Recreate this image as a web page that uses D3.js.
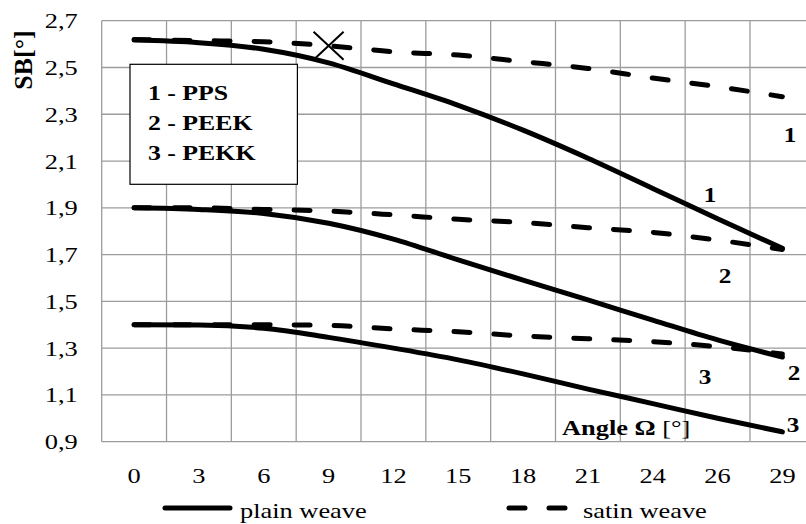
<!DOCTYPE html>
<html><head><meta charset="utf-8">
<script src="https://cdn.jsdelivr.net/npm/d3@7"></script>
<style>body{margin:0;background:#fff}svg{display:block}</style>
</head><body>
<svg id="chart" width="806" height="524"></svg>
<script>
const categories = ["0","3","6","9","12","15","18","21","24","26","29"];
const yTicks = [0.9,1.1,1.3,1.5,1.7,1.9,2.1,2.3,2.5,2.7];
const plainPPS  = [2.617, 2.606, 2.578, 2.52, 2.43, 2.338, 2.232, 2.112, 1.983, 1.853, 1.727];
const satinPPS  = [2.62, 2.615, 2.61, 2.593, 2.567, 2.553, 2.525, 2.496, 2.455, 2.418, 2.375];
const plainPEEK = [1.90, 1.893, 1.876, 1.834, 1.766, 1.677, 1.591, 1.506, 1.42, 1.335, 1.262];
const satinPEEK = [1.90, 1.90, 1.893, 1.886, 1.87, 1.851, 1.837, 1.815, 1.795, 1.762, 1.722];
const plainPEKK = [1.40, 1.399, 1.385, 1.346, 1.30, 1.25, 1.19, 1.125, 1.063, 1.0, 0.942];
const satinPEKK = [1.40, 1.40, 1.40, 1.397, 1.382, 1.37, 1.352, 1.34, 1.328, 1.306, 1.275];
const legendItems = ["1 - PPS","2 - PEEK","3 - PEKK"];
const markerIndex = 3; // "X" marker on satin PPS at 9

const svg = d3.select("#chart");
const FONT = "Liberation Serif, Tinos, Times New Roman, Times, Nimbus Roman, DejaVu Serif, serif";
const SX = 1.2;

const x = d3.scaleBand().domain(categories).range([101.7, 814.8]).padding(0);
const y = d3.scaleLinear().domain([0.9, 2.7]).range([441.7, 20.7]);
const cx = c => x(c) + x.bandwidth()/2;

function txt(g, px, py, s, opt={}) {
  const t = g.append("text")
    .attr("transform", `translate(${px},${py}) scale(${SX},1)`)
    .attr("font-family", FONT)
    .attr("font-size", opt.size || 22)
    .attr("font-weight", opt.bold ? "bold" : "normal")
    .attr("text-anchor", opt.anchor || "start")
    .attr("fill", "#000")
    .text(s);
  return t;
}

// grid
const grid = svg.append("g");
grid.selectAll("line.h").data(yTicks).join("line")
  .attr("x1", 101.7).attr("x2", 814.8)
  .attr("y1", d => y(d)).attr("y2", d => y(d))
  .attr("stroke", "#9c9c9c").attr("stroke-width", 1.3);
const vb = categories.map(c => x(c)).concat([x(categories[categories.length-1]) + x.bandwidth()]);
grid.selectAll("line.v").data(vb).join("line")
  .attr("x1", d => d).attr("x2", d => d)
  .attr("y1", y(2.7)).attr("y2", y(0.9))
  .attr("stroke", "#9c9c9c").attr("stroke-width", 1.3);

// axes (labels only)
const xAxis = svg.append("g").attr("transform", `translate(0,${y(0.9)})`)
  .call(d3.axisBottom(x).tickSize(0).tickPadding(0));
xAxis.select(".domain").remove();
xAxis.selectAll(".tick text").remove();
xAxis.selectAll(".tick").each(function(d){
  txt(d3.select(this), 0, 41, d, {anchor:"middle"});
});
const yAxis = svg.append("g").attr("transform", `translate(101.7,0)`)
  .call(d3.axisLeft(y).tickValues(yTicks).tickSize(0));
yAxis.select(".domain").remove();
yAxis.selectAll(".tick text").remove();
yAxis.selectAll(".tick").each(function(d){
  txt(d3.select(this), -24, 7, d3.format(".1f")(d).replace(".", ","), {anchor:"end"});
});

// legend box
svg.append("rect").attr("x", 130).attr("y", 64.3).attr("width", 167.4).attr("height", 120)
  .attr("fill", "#fff").attr("stroke", "#000").attr("stroke-width", 1.2);
legendItems.forEach((s, i) => txt(svg, 148, 99.5 + i*30, s, {bold:true, size:21.5}));

// series
const line = d3.line().x((d,i) => cx(categories[i])).y(d => y(d)).curve(d3.curveMonotoneX);
const plain = [plainPPS, plainPEEK, plainPEKK];
const satin = [satinPPS, satinPEEK, satinPEKK];
svg.append("g").selectAll("path").data(satin).join("path")
  .attr("d", line).attr("fill", "none").attr("stroke", "#000").attr("stroke-width", 5)
  .attr("stroke-linecap", "round").attr("stroke-dasharray", "16,24");
svg.append("g").selectAll("path").data(plain).join("path")
  .attr("d", line).attr("fill", "none").attr("stroke", "#000").attr("stroke-width", 5)
  .attr("stroke-linecap", "round");

// X marker
const mx = cx(categories[markerIndex]), my = y(satinPPS[markerIndex]);
svg.append("path")
  .attr("d", `M${mx-15},${my-14}L${mx+15},${my+14}M${mx-15},${my+14}L${mx+15},${my-14}`)
  .attr("stroke", "#000").attr("stroke-width", 2).attr("fill", "none");

// curve labels
const labels = [
  {s:"1", x:790, y:142}, {s:"1", x:710, y:202},
  {s:"2", x:725, y:283}, {s:"2", x:794, y:380},
  {s:"3", x:705, y:384}, {s:"3", x:793, y:432}
];
labels.forEach(l => txt(svg, l.x, l.y, l.s, {bold:true, size:21, anchor:"middle"}));

// axis titles
const at = txt(svg, 562, 435, "", {bold:true});
at.append("tspan").text("Angle Ω ");
at.append("tspan").attr("font-weight", "normal").text("[°]");

svg.append("text")
  .attr("transform", "translate(32,60) rotate(-90)")
  .attr("font-family", FONT).attr("font-size", 26).attr("font-weight", "bold")
  .attr("text-anchor", "middle").text("SB[°]");

// bottom legend
svg.append("line").attr("x1", 165).attr("x2", 230).attr("y1", 508).attr("y2", 508)
  .attr("stroke", "#000").attr("stroke-width", 5).attr("stroke-linecap", "round");
txt(svg, 240, 518, "plain weave");
svg.append("line").attr("x1", 509).attr("x2", 567).attr("y1", 508).attr("y2", 508)
  .attr("stroke", "#000").attr("stroke-width", 5).attr("stroke-linecap", "round")
  .attr("stroke-dasharray", "16,24");
txt(svg, 583, 518, "satin weave");
</script>
</body></html>
